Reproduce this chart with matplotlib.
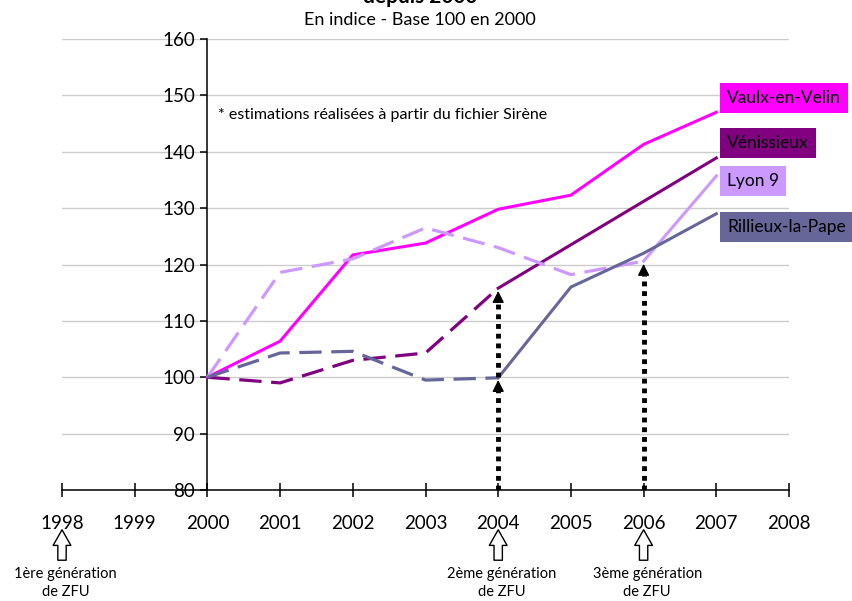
import numpy as np
import matplotlib.pyplot as plt
import matplotlib.transforms as mtrans

plt.rcParams['font.family'] = ['Lato', 'DejaVu Sans']

# data (index, base 100 in 2000)
years = [2000, 2001, 2002, 2003, 2004, 2005, 2006, 2007]
vaulx = [100, 106.4, 121.7, 123.8, 129.8, 132.3, 141.3, 147.0]
venissieux = [100, 99.0, 103.0, 104.3, 115.8, 123.5, 131.2, 138.9]
lyon9 = [100, 118.6, 121.0, 126.5, 123.0, 118.2, 120.6, 135.7]
rillieux = [100, 104.3, 104.6, 99.5, 99.9, 116.0, 122.0, 129.0]

names = ['Vaulx-en-Velin', 'Vénissieux', 'Lyon 9', 'Rillieux-la-Pape']
colors = ['#FF00FF', '#800080', '#CC99FF', '#666699']
# index of the year from which the series becomes solid (estimations before)
solid_from = [0, 4, 6, 4]
label_y = [149.5, 141.5, 134.8, 126.6]

xticks = list(range(1998, 2009))
yticks = list(range(80, 161, 10))

zfu_years = [1998, 2004, 2006]
zfu_texts = ['1ère génération\nde ZFU', '2ème génération\nde ZFU', '3ème génération\nde ZFU']

fig = plt.figure(figsize=(8.53, 6.01), dpi=100)
ax = fig.add_axes([62/853, 1-490/601, (789-62)/853, (490-39)/601])
ax.set_xlim(1998, 2008)
ax.set_ylim(80, 160)

# axes look
for s in ['top', 'right']:
    ax.spines[s].set_visible(False)
ax.spines['left'].set_position(('data', 2000))
ax.spines['left'].set_linewidth(1.1)
ax.spines['bottom'].set_linewidth(1.1)
ax.set_xticks(xticks)
ax.set_yticks(yticks)
ax.tick_params(axis='x', direction='inout', length=10, width=1.1, pad=13, labelsize=13.5)
ax.tick_params(axis='y', direction='out', length=5, width=1.1, pad=4, labelsize=13.5)
ax.yaxis.grid(True, color='#cccccc', lw=1)
ax.set_axisbelow(True)

series = [vaulx, venissieux, lyon9, rillieux]
for vals, c, sf in zip(series, colors, solid_from):
    if sf > 0:
        ax.plot(years[:sf+1], vals[:sf+1], color=c, lw=2.3, dashes=(7, 3), zorder=3)
    ax.plot(years[sf:], vals[sf:], color=c, lw=2.2, zorder=3)

# coloured labels on the right
for name, c, ly in zip(names, colors, label_y):
    ax.text(2007.15, ly, name, fontsize=12.5, va='center', ha='left', color='black',
            bbox=dict(boxstyle='square,pad=0.4', fc=c, ec='none'), clip_on=False, zorder=5)

# dotted arrows to the points where estimation stops
arrows = [(2004, 80, 100.0), (2004, 100.0, venissieux[4]), (2006, 80, lyon9[6])]
for x, y0, y1 in arrows:
    ax.plot([x, x], [y0, y1 - 2.5], color='black', lw=3.5, dashes=(1, 1), zorder=4,
            solid_capstyle='butt', dash_capstyle='butt')
    ax.annotate('', xy=(x, y1), xytext=(x, y1 - 3),
                arrowprops=dict(arrowstyle='-|>,head_length=0.7,head_width=0.35',
                                color='black', lw=1), zorder=4)

ax.text(2000.15, 146.5, '* estimations réalisées à partir du fichier Sirène', fontsize=11.5,
        va='center', ha='left')

# hollow arrows and ZFU labels under the axis
trans = mtrans.blended_transform_factory(ax.transData, fig.transFigure)
for x, t in zip(zfu_years, zfu_texts):
    ax.annotate('', xy=(x, 1-527/601), xytext=(x, 1-563/601), xycoords=trans, textcoords=trans,
                arrowprops=dict(arrowstyle='simple,head_length=0.75,head_width=0.85,tail_width=0.4',
                                fc='white', ec='black', lw=1, mutation_scale=15),
                annotation_clip=False)
    ax.text(x + 0.05, 1-583/601, t, transform=trans, fontsize=10.5, ha='center', va='center',
            linespacing=1.4)

fig.text(420/853, 1-3/601, 'depuis 2000', fontsize=15, fontweight='bold', ha='center', va='baseline')
fig.text(420/853, 1-20/601, 'En indice - Base 100 en 2000', fontsize=13, ha='center', va='center')

fig.savefig('out.png', dpi=100)
